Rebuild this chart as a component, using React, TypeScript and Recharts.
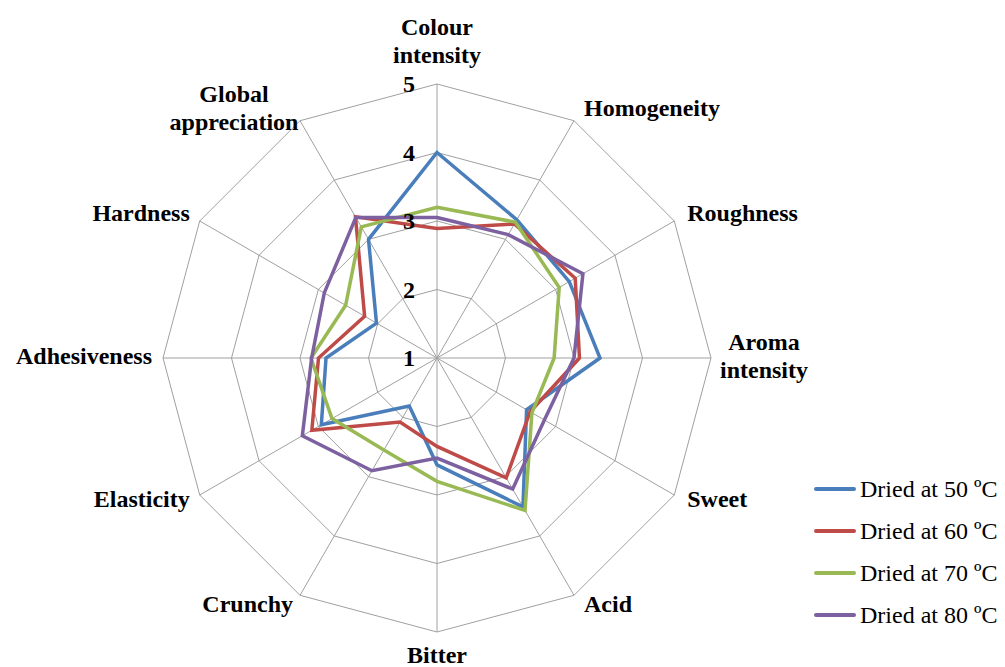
import {
  RadarChart,
  Radar,
  PolarGrid,
  PolarAngleAxis,
  PolarRadiusAxis,
  Legend,
} from "recharts";

const categories = [
  "Colour intensity",
  "Homogeneity",
  "Roughness",
  "Aroma intensity",
  "Sweet",
  "Acid",
  "Bitter",
  "Crunchy",
  "Elasticity",
  "Adhesiveness",
  "Hardness",
  "Global appreciation",
];

const dried50 = [4.0, 3.33, 3.23, 3.38, 2.51, 3.51, 2.56, 1.81, 2.95, 2.62, 2.02, 3.0];
const dried60 = [2.89, 3.26, 3.33, 3.08, 2.57, 3.02, 2.29, 2.08, 3.11, 2.73, 2.22, 3.38];
const dried70 = [3.2, 3.29, 3.06, 2.71, 2.6, 3.57, 2.8, 2.55, 2.77, 2.84, 2.54, 3.21];
const dried80 = [3.05, 3.08, 3.46, 3.0, 2.81, 3.21, 2.46, 2.9, 3.27, 2.83, 2.9, 3.37];

const radiusTicks = [1, 2, 3, 4, 5];

const series = [
  { key: "d50", name: "Dried at 50 ºC", color: "#4A7EBB", values: dried50 },
  { key: "d60", name: "Dried at 60 ºC", color: "#BE4B48", values: dried60 },
  { key: "d70", name: "Dried at 70 ºC", color: "#98B954", values: dried70 },
  { key: "d80", name: "Dried at 80 ºC", color: "#7D60A0", values: dried80 },
];

const data = categories.map((c, i) => {
  const row: any = { attr: c };
  series.forEach((s) => (row[s.key] = s.values[i]));
  return row;
});

const FONT = '"Liberation Serif", "Times New Roman", serif';
const LINE_H = 28;

function AngleTick(props: any) {
  const { x, y, payload } = props;
  const a = (payload.coordinate * Math.PI) / 180;
  const c = Math.cos(a);
  const s = Math.sin(a);
  const lines = String(payload.value).split(" ");
  const base = 6 - 4.5 * s;
  let anchor = "middle";
  let tx = x;
  let firstY = y + base - ((lines.length - 1) * LINE_H) / 2;
  if (Math.abs(c) < 1e-3) {
    if (s > 0) firstY = y - 13 - (lines.length - 1) * LINE_H;
    else firstY = y + 23;
  } else if (lines.length > 1) {
    tx = c > 0 ? x + 45 : x - 62;
  } else {
    anchor = c > 0 ? "start" : "end";
    tx = c > 0 ? x + 6 : x - 3;
  }
  return (
    <text
      x={tx}
      y={firstY}
      textAnchor={anchor}
      fontFamily={FONT}
      fontWeight="bold"
      fontSize={24}
      fill="#000"
    >
      {lines.map((l, i) => (
        <tspan key={i} x={tx} y={firstY + i * LINE_H}>
          {l}
        </tspan>
      ))}
    </text>
  );
}

function RadiusTick(props: any) {
  const { x, y, payload } = props;
  return (
    <text
      x={x - 22}
      y={y + 8}
      textAnchor="end"
      fontFamily={FONT}
      fontWeight="bold"
      fontSize={24}
      fill="#000"
    >
      {payload.value}
    </text>
  );
}

function LegendBox(props: any) {
  const { payload } = props;
  return (
    <div style={{ fontFamily: FONT, fontSize: 24, color: "#000" }}>
      {(payload || []).map((p: any) => (
        <div
          key={p.value}
          style={{ display: "flex", alignItems: "center", height: 42 }}
        >
          <span
            style={{
              display: "inline-block",
              width: 42,
              height: 4,
              background: p.color,
              marginRight: 4,
              borderRadius: 2,
            }}
          />
          <span style={{ whiteSpace: "nowrap" }}>{p.value}</span>
        </div>
      ))}
    </div>
  );
}

export default function App() {
  return (
    <div style={{ position: "absolute", left: 0, top: 0, background: "#fff" }}>
      <RadarChart
        width={1005}
        height={667}
        data={data}
        cx={437}
        cy={358}
        outerRadius={274}
        margin={{ top: 0, right: 0, bottom: 0, left: 0 }}
      >
        <PolarGrid gridType="polygon" stroke="#a0a0a0" strokeWidth={1} />
        <PolarAngleAxis
          dataKey="attr"
          tick={<AngleTick />}
          tickLine={false}
          axisLine={false}
        />
        <PolarRadiusAxis
          angle={90}
          domain={[1, 5]}
          ticks={radiusTicks as any}
          tickCount={5}
          tick={<RadiusTick />}
          axisLine={false}
          tickLine={false}
        />
        {series.map((s) => (
          <Radar
            key={s.key}
            name={s.name}
            dataKey={s.key}
            stroke={s.color}
            strokeWidth={3.5}
            fill="none"
            fillOpacity={0}
            dot={false}
            isAnimationActive={false}
          />
        ))}
        <Legend
          layout="vertical"
          content={<LegendBox />}
          wrapperStyle={{ position: "absolute", left: 814, top: 468, width: 191 }}
        />
      </RadarChart>
    </div>
  );
}
